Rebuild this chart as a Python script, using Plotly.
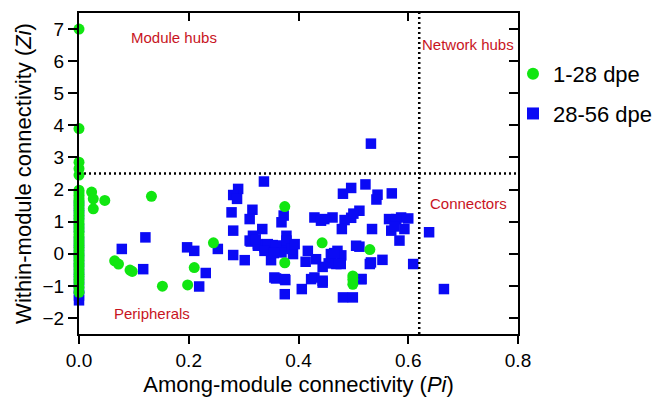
import plotly.graph_objects as go

# Participation coefficient (Pi) and within-module degree (Zi) per node
early_pi = [0, 0, 0, 0, 0,
            0, 0, 0, 0, 0, 0, 0, 0, 0, 0, 0, 0, 0, 0, 0, 0, 0, 0, 0, 0, 0,
            0, 0, 0, 0, 0, 0, 0, 0, 0, 0, 0, 0,
            0.023, 0.026, 0.026, 0.047, 0.132, 0.065, 0.072, 0.093, 0.097,
            0.152, 0.198, 0.21, 0.245, 0.375, 0.375, 0.443, 0.530,
            0.499, 0.499, 0.499]
early_zi = [7.0, 3.9, 2.85, 2.65, 2.45,
            1.98, 1.9, 1.82, 1.74, 1.66, 1.58, 1.5, 1.4, 1.3, 1.2, 1.1, 1.0,
            0.9, 0.8, 0.7, 0.6, 0.5, 0.4, 0.3, 0.2, 0.1,
            0.0, -0.1, -0.2, -0.3, -0.4, -0.5, -0.6, -0.7, -0.8, -0.9, -1.05, -1.2,
            1.92, 1.71, 1.40, 1.66, 1.79, -0.22, -0.32, -0.51, -0.55,
            -1.01, -0.97, -0.43, 0.34, 1.47, -0.28, 0.34, 0.13,
            -0.69, -0.80, -0.95]

late_pi = [0, 0, 0, 0, 0, 0, 0, 0, 0, 0, 0,
           0.078, 0.121, 0.117, 0.197, 0.21, 0.231, 0.219, 0.253,
           0.337, 0.290, 0.281, 0.288, 0.278, 0.316, 0.311, 0.373, 0.369, 0.334,
           0.281, 0.317, 0.313, 0.326, 0.338, 0.353, 0.378, 0.369, 0.385, 0.39,
           0.281, 0.302, 0.350, 0.359, 0.376, 0.375, 0.406, 0.417, 0.413, 0.432,
           0.429, 0.444, 0.429, 0.441,
           0.311, 0.326, 0.344, 0.359, 0.378, 0.387, 0.393, 0.369, 0.338, 0.322,
           0.355, 0.375, 0.356, 0.423,
           0.532, 0.522, 0.496, 0.481, 0.544, 0.570, 0.542, 0.511, 0.496, 0.484,
           0.462, 0.447, 0.479, 0.534, 0.565, 0.587, 0.593, 0.569, 0.584, 0.511,
           0.471, 0.459, 0.469, 0.444, 0.444, 0.530, 0.553, 0.609, 0.515, 0.481,
           0.499, 0.638, 0.665, 0.505, 0.578, 0.600, 0.575, 0.500, 0.478, 0.455,
           0.465, 0.477, 0.514, 0.532]
late_zi = [-1.45, -1.3, -1.1, -0.8, -0.5, -0.2, 0.1, 0.4, 0.8, 1.2, 1.5,
           0.15, 0.51, -0.48, 0.20, 0.09, -0.60, -1.02, 0.15,
           2.25, 2.02, 1.83, 1.71, 1.29, 1.37, 1.08, 1.19, 0.98, 0.77,
           0.72, 0.56, 0.38, 0.30, 0.20, 0.27, 0.56, 0.25, 0.20, -0.01,
           -0.04, -0.20, -0.20, -0.77, -0.82, -1.26, -1.10, 0.09, -0.25, -0.17,
           -0.74, -0.84, 1.13, 1.03,
           0.41, 0.25, 0.30, 0.25, 0.41, 0.15, 0.30, 0.04, 0.09, 0.45,
           0.02, -0.79, -0.74, -0.79,
           3.43, 2.16, 2.05, 1.87, 1.84, 1.88, 1.69, 1.34, 1.12, 1.05,
           1.13, 1.08, 0.77, 0.77, 1.08, 1.13, 0.77, 0.72, 0.41, 0.22,
           0.09, -0.01, -0.32, -0.41, -0.90, -0.32, -0.19, -0.32, -0.79, -1.36,
           -1.36, 0.67, -1.10, 0.25, 1.08, 1.10, 0.85, 1.25, -0.05, -0.30,
           0.02, -0.32, -0.79, -0.27]

series_names = ["1-28 dpe", "28-56 dpe"]
x_ticks = [0, 0.2, 0.4, 0.6, 0.8]
x_tick_text = ["0.0", "0.2", "0.4", "0.6", "0.8"]
y_ticks = [-2, -1, 0, 1, 2, 3, 4, 5, 6, 7]

pi_threshold = 0.62
zi_threshold = 2.5
x_range = [0, 0.8]
y_range = [-2.5, 7.5]

role_labels = ["Module hubs", "Network hubs", "Connectors", "Peripherals"]
role_x = [0.173, 0.709, 0.709, 0.133]
role_y = [6.75, 6.53, 1.56, -1.875]

GREEN = "#11e611"
BLUE = "#0a0af5"
RED = "#c8141e"
FONT = "Liberation Sans, Arial, Helvetica, sans-serif"

fig = go.Figure()
fig.add_trace(go.Scatter(
    x=late_pi, y=late_zi, mode="markers", name=series_names[1],
    legendgroup="b", legendrank=2, cliponaxis=False,
    marker=dict(symbol="square", size=10.5, color=BLUE, line=dict(width=0)),
))
fig.add_trace(go.Scatter(
    x=early_pi, y=early_zi, mode="markers", name=series_names[0],
    legendgroup="a", legendrank=1, cliponaxis=False,
    marker=dict(symbol="circle", size=11, color=GREEN, line=dict(width=0)),
))
# invisible trace to carry the mirrored top/right axes
fig.add_trace(go.Scatter(
    x=x_range, y=y_range, xaxis="x2", yaxis="y2", mode="markers",
    marker=dict(opacity=0), showlegend=False, hoverinfo="skip",
))

axis_common = dict(showgrid=False, zeroline=False, showline=True,
                   linecolor="black", linewidth=2, tickcolor="black",
                   tickwidth=2)

fig.update_layout(
    width=656, height=402,
    margin=dict(l=79, r=138, t=13, b=68, autoexpand=False),
    paper_bgcolor="white", plot_bgcolor="white",
    font=dict(family=FONT, color="black"),
    xaxis=dict(range=x_range, tickvals=x_ticks, ticktext=x_tick_text,
               ticks="outside", ticklen=8, tickfont=dict(size=19),
               title=dict(text="Among-module connectivity (<i>Pi</i>)",
                          font=dict(size=22), standoff=7),
               **axis_common),
    yaxis=dict(range=y_range, tickvals=y_ticks, ticks="outside", ticklen=9,
               tickfont=dict(size=19),
               title=dict(text="Within-module connectivity (<i>Zi</i>)",
                          font=dict(size=22), standoff=5),
               **axis_common),
    xaxis2=dict(range=x_range, tickvals=x_ticks, ticks="inside", ticklen=8,
                overlaying="x", side="top", anchor="y", showticklabels=False,
                **axis_common),
    yaxis2=dict(range=y_range, tickvals=y_ticks, ticks="inside", ticklen=9,
                overlaying="y", side="right", anchor="x", showticklabels=False,
                **axis_common),
    legend=dict(xref="container", yref="container", x=0.782, y=0.868,
                xanchor="left", yanchor="top",
                font=dict(size=22), bgcolor="rgba(0,0,0,0)",
                traceorder="grouped", tracegroupgap=8,
                itemsizing="constant"),
    showlegend=True,
)

fig.add_shape(type="line", xref="x", yref="y", x0=x_range[0], x1=x_range[1],
              y0=zi_threshold, y1=zi_threshold,
              line=dict(color="black", width=2.5, dash="2px,3px"))
fig.add_shape(type="line", xref="x", yref="y", x0=pi_threshold, x1=pi_threshold,
              y0=y_range[0], y1=y_range[1],
              line=dict(color="black", width=2.5, dash="2px,3px"))

for label, lx, ly in zip(role_labels, role_x, role_y):
    fig.add_annotation(x=lx, y=ly, xref="x", yref="y", text=label,
                       showarrow=False, font=dict(size=15, color=RED))

fig.write_html("out.html")
